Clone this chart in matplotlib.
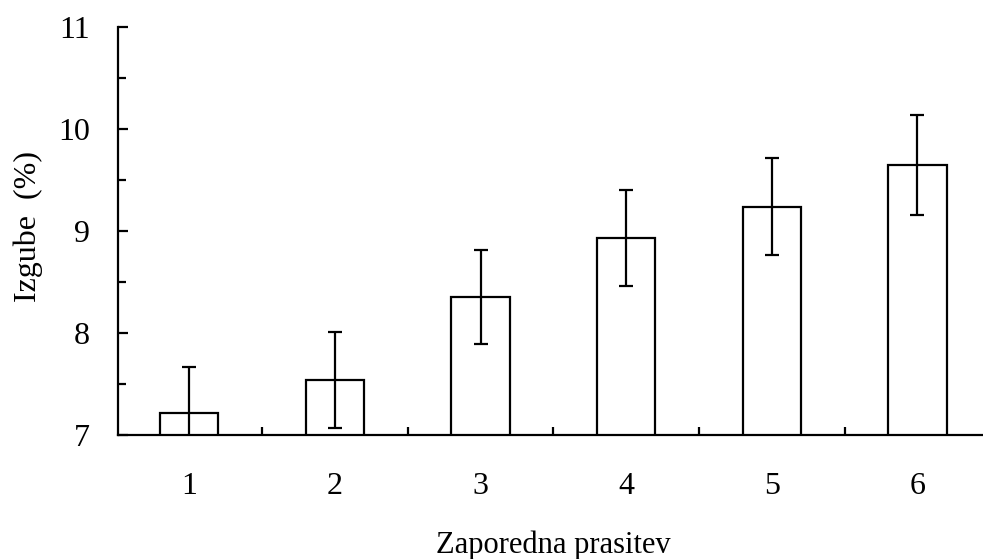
import matplotlib.pyplot as plt
from matplotlib.ticker import MultipleLocator, FixedLocator

# Losses by parity number
parity = [1, 2, 3, 4, 5, 6]
losses = [7.22, 7.54, 8.35, 8.93, 9.24, 9.65]
errors = [0.45, 0.47, 0.46, 0.47, 0.48, 0.49]
y_ticks = [7, 8, 9, 10, 11]

plt.rcParams['font.family'] = ['Liberation Serif', 'DejaVu Serif']

fig = plt.figure(figsize=(9.83, 5.59), dpi=100)
ax = fig.add_axes([118 / 983, 124 / 559, 865 / 983, 408 / 559])

ax.bar(parity, losses, width=0.4, color='white', edgecolor='black', linewidth=1.6)
ax.errorbar(parity, losses, yerr=errors, fmt='none', ecolor='black',
            elinewidth=1.6, capsize=5, capthick=1.6)

ax.set_ylim(7, 11)
ax.set_xlim(0.51, 6.45)
ax.yaxis.set_major_locator(FixedLocator(y_ticks))
ax.yaxis.set_minor_locator(MultipleLocator(0.5))
ax.set_xticks(parity)
ax.xaxis.set_minor_locator(FixedLocator([1.5, 2.5, 3.5, 4.5, 5.5]))

ax.spines['top'].set_visible(False)
ax.spines['right'].set_visible(False)
for s in ['left', 'bottom']:
    ax.spines[s].set_linewidth(1.6)

ax.tick_params(axis='y', which='both', direction='in', width=1.6, labelsize=23, pad=20)
ax.tick_params(axis='y', which='major', length=7)
ax.tick_params(axis='y', which='minor', length=6)
ax.tick_params(axis='x', which='major', length=0, labelsize=23, pad=27)
ax.tick_params(axis='x', which='minor', direction='in', length=6, width=1.6)

ax.set_xlabel('Zaporedna prasitev', fontsize=22, va='baseline')
ax.xaxis.set_label_coords(0.5 * (433 + 673) / 983 * 983 / 865 - 118 / 865, -118 / 408)
ax.set_ylabel('Izgube  (%)', fontsize=23, va='center', ha='center')
ax.yaxis.set_label_coords(-90 / 865, 0.512)

fig.savefig('out.png', dpi=100)
